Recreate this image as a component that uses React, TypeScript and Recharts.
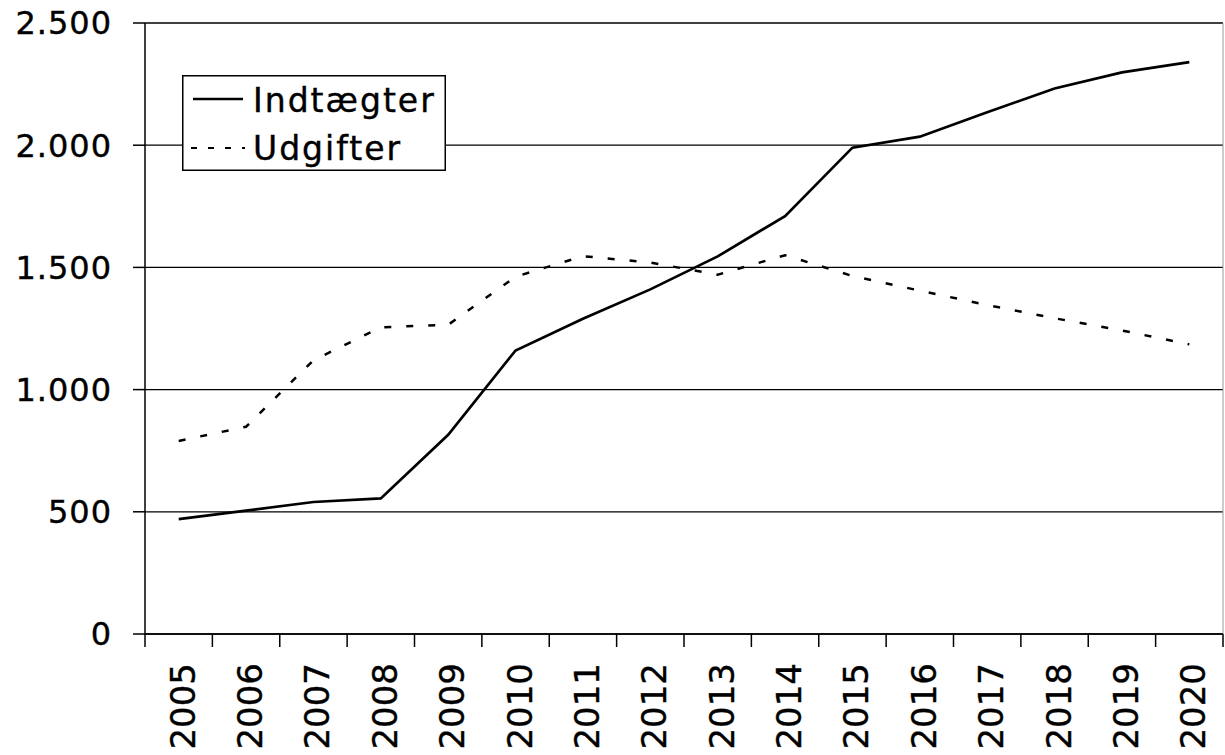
import { CartesianGrid, Legend, Line, LineChart, XAxis, YAxis } from "recharts";

const years = [
  "2005", "2006", "2007", "2008", "2009", "2010", "2011", "2012",
  "2013", "2014", "2015", "2016", "2017", "2018", "2019", "2020",
];
const indtaegter = [470, 505, 540, 555, 815, 1160, 1290, 1410, 1545, 1710, 1990, 2035, 2135, 2232, 2298, 2340];
const udgifter = [790, 848, 1120, 1255, 1265, 1462, 1546, 1520, 1470, 1550, 1465, 1405, 1346, 1292, 1242, 1185];
const yTicks = [0, 500, 1000, 1500, 2000, 2500];

const data = years.map((year, i) => ({
  year,
  indtaegter: indtaegter[i],
  udgifter: udgifter[i],
}));

const W = 1225;
const H = 755;
const LEFT = 145;
const RIGHT = 2;
const TOP = 23;
const X_AXIS_H = 121;
const BAND = (W - LEFT - RIGHT) / years.length;
const FONT = "'DejaVu Sans', Verdana, sans-serif";

const fmt = (v: number) => String(v).replace(/\B(?=(\d{3})+(?!\d))/g, ".");

function YearTick(props: any) {
  const { x, y, payload, index } = props;
  const half = payload && payload.offset ? payload.offset : BAND / 2;
  return (
    <g>
      <line x1={x - half} x2={x - half} y1={y} y2={y + 13} stroke="#000" strokeWidth={1.5} />
      {index === years.length - 1 && (
        <line x1={x + half} x2={x + half} y1={y} y2={y + 13} stroke="#000" strokeWidth={1.5} />
      )}
      <text
        transform={`translate(${x + 16},${y + 29}) rotate(-90)`}
        textAnchor="end"
        fontFamily={FONT}
        fontSize={34}
        fill="#000"
        stroke="#000"
        strokeWidth={0.4}
      >
        {payload.value}
      </text>
    </g>
  );
}

function LegendBox() {
  return (
    <svg width={264} height={96} style={{ display: "block" }}>
      <rect x={0.75} y={0.75} width={262.5} height={94.5} fill="#fff" stroke="#000" strokeWidth={1.5} />
      <line x1={11} x2={61} y1={24} y2={24} stroke="#000" strokeWidth={2.7} />
      <text x={71} y={37} fontFamily={FONT} fontSize={33} letterSpacing={2} fill="#000" stroke="#000" strokeWidth={0.4}>
        Indtægter
      </text>
      <line x1={9} x2={63} y1={73} y2={73} stroke="#000" strokeWidth={2} strokeDasharray="6 11" />
      <text x={71} y={85} fontFamily={FONT} fontSize={33} letterSpacing={2} fill="#000" stroke="#000" strokeWidth={0.4}>
        Udgifter
      </text>
    </svg>
  );
}

export default function App() {
  return (
    <div style={{ position: "absolute", left: 0, top: 0, background: "#fff" }}>
      <LineChart width={W} height={H} data={data} margin={{ top: TOP, right: RIGHT, left: 0, bottom: 0 }}>
        <CartesianGrid vertical={false} stroke="#000" strokeWidth={1.3} />
        <CartesianGrid
          horizontal={false}
          stroke="#999"
          verticalCoordinatesGenerator={({ offset }: any) => [offset.left + offset.width]}
        />
        <XAxis
          dataKey="year"
          scale="band"
          height={X_AXIS_H}
          interval={0}
          tickLine={false}
          tickSize={0}
          tickMargin={0}
          axisLine={{ stroke: "#000", strokeWidth: 1.5 }}
          tick={<YearTick />}
        />
        <YAxis
          width={LEFT}
          domain={[0, 2500]}
          ticks={yTicks}
          interval={0}
          tickFormatter={fmt}
          tickSize={12}
          tickMargin={21}
          axisLine={{ stroke: "#000", strokeWidth: 1.5 }}
          tickLine={{ stroke: "#000", strokeWidth: 1.5 }}
          tick={{ fill: "#000", stroke: "#000", strokeWidth: 0.4, fontSize: 32, fontFamily: FONT, letterSpacing: 1 }}
        />
        <Legend
          layout="vertical"
          align="center"
          verticalAlign="middle"
          content={<LegendBox />}
          wrapperStyle={{ left: 182, top: 75, width: 264, height: 96 }}
        />
        <Line
          type="linear"
          dataKey="indtaegter"
          name="Indtægter"
          stroke="#000"
          strokeWidth={2.7}
          dot={false}
          isAnimationActive={false}
        />
        <Line
          type="linear"
          dataKey="udgifter"
          name="Udgifter"
          stroke="#000"
          strokeWidth={2.5}
          strokeDasharray="7 15"
          dot={false}
          isAnimationActive={false}
        />
      </LineChart>
    </div>
  );
}
